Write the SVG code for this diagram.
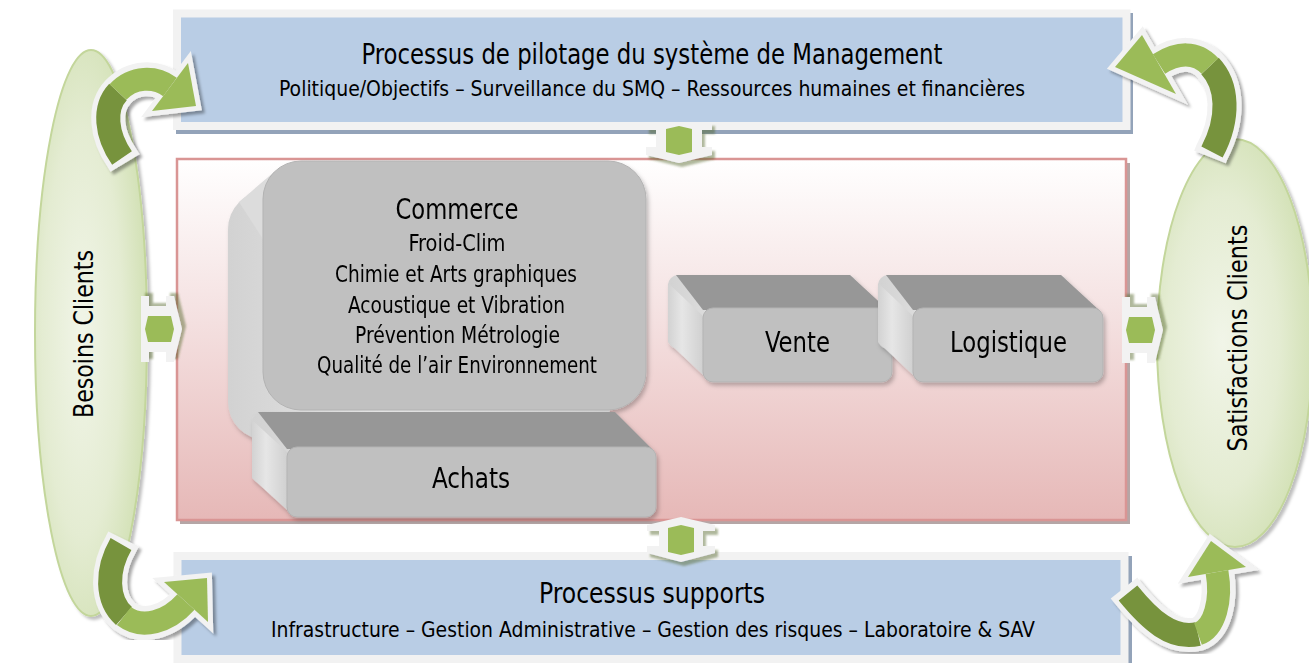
<svg xmlns="http://www.w3.org/2000/svg" width="1309" height="663" viewBox="0 0 1309 663">
<defs>
<style>
.t{font-family:"Liberation Sans Narrow","DejaVu Sans Condensed","Liberation Sans",sans-serif;fill:#000;text-anchor:middle}
.ao{fill:none;stroke:#f2f2f2;stroke-width:34}
.ad{fill:none;stroke:#77933c;stroke-width:24}
.al{fill:none;stroke:#9bbb59;stroke-width:23}
.aho{fill:#f2f2f2;stroke:#f2f2f2;stroke-width:10;stroke-linejoin:miter}
.ah{fill:#9bbb59}
.cw{fill:#f2f2f2}
.cg{fill:#9bbb59}
.front{fill:#c0c0c0;stroke:#b3b3b3;stroke-width:1}
.topf{fill:#979797}
.blue{fill:#b9cde5;stroke:#f2f2f2;stroke-width:8}
.bsh{fill:#93a3b9}
</style>
<linearGradient id="pink" x1="0" y1="0" x2="0" y2="1">
<stop offset="0" stop-color="#ffffff"/>
<stop offset="0.45" stop-color="#f4e0e0"/>
<stop offset="1" stop-color="#e6b8b7"/>
</linearGradient>
<radialGradient id="ell" cx="0.42" cy="0.5" r="0.6">
<stop offset="0" stop-color="#f1f5e8"/>
<stop offset="0.6" stop-color="#e4ecd2"/>
<stop offset="1" stop-color="#d1e0b3"/>
</radialGradient>
<linearGradient id="side" x1="0" y1="0" x2="1" y2="0">
<stop offset="0" stop-color="#d2d2d2"/>
<stop offset="0.4" stop-color="#e6e6e6"/>
<stop offset="1" stop-color="#d0d0d0"/>
</linearGradient>
<filter id="ash" x="-20%" y="-20%" width="140%" height="140%">
<feDropShadow dx="3" dy="3" stdDeviation="1.5" flood-color="#000" flood-opacity="0.35"/>
</filter>
<filter id="csh" x="-20%" y="-20%" width="140%" height="140%">
<feDropShadow dx="3" dy="4" stdDeviation="0.8" flood-color="#4f6228" flood-opacity="0.45"/>
</filter>
<filter id="esh" x="-10%" y="-10%" width="120%" height="120%">
<feDropShadow dx="3" dy="3" stdDeviation="1.5" flood-color="#000" flood-opacity="0.25"/>
</filter>
<filter id="bsh" x="-10%" y="-10%" width="120%" height="120%">
<feDropShadow dx="2" dy="3" stdDeviation="2" flood-color="#000" flood-opacity="0.25"/>
</filter>
<g id="conn1">
<path class="cw" d="M-33,-20 H33 V-12 H23 V5 H33 V13 L0,21 L-33,13 V5 H-23 V-12 H-33 Z"/>
<path class="cg" d="M-13,-13 L0,-16 L13,-13 V10 L0,13 L-13,10 Z"/>
</g>
<g id="conn2">
<path class="cw" d="M-34,-15 L0,-23 L34,-15 V-9 H22 V6 H34 V13 L0,22 L-34,13 V6 H-22 V-9 H-34 Z"/>
<path class="cg" d="M-13,-12 L0,-15 L13,-12 V12 L0,15 L-13,12 Z"/>
</g>
</defs>
<rect width="1309" height="663" fill="#ffffff"/>

<g id="besoins-clients">
<ellipse cx="91" cy="333" rx="56" ry="283" fill="url(#ell)" stroke="#c3d69b" stroke-width="2" filter="url(#esh)"/>
<text class="t" font-size="27" textLength="168" lengthAdjust="spacingAndGlyphs" transform="translate(93,334) rotate(-90)">Besoins Clients</text>
</g>

<g id="satisfactions-clients">
<ellipse cx="1235" cy="343" rx="78" ry="204" fill="url(#ell)" stroke="#c3d69b" stroke-width="2" filter="url(#esh)"/>
<text class="t" font-size="26" textLength="227" lengthAdjust="spacingAndGlyphs" transform="translate(1247,338) rotate(-90)">Satisfactions Clients</text>
</g>

<g id="pilotage">
<rect class="bsh" x="176" y="13" width="957" height="121"/>
<rect class="blue" x="177" y="13.5" width="949.5" height="112.5"/>
<text class="t" x="652" y="64" font-size="28" textLength="581" lengthAdjust="spacingAndGlyphs">Processus de pilotage du système de Management</text>
<text class="t" x="652" y="96" font-size="22" textLength="746" lengthAdjust="spacingAndGlyphs">Politique/Objectifs – Surveillance du SMQ – Ressources humaines et financières</text>
</g>

<g id="supports">
<rect class="bsh" x="176" y="556" width="956" height="110"/>
<rect class="blue" x="177.5" y="556" width="947" height="103"/>
<text class="t" x="652" y="603" font-size="28" textLength="226" lengthAdjust="spacingAndGlyphs">Processus supports</text>
<text class="t" x="653" y="637" font-size="22" textLength="764" lengthAdjust="spacingAndGlyphs">Infrastructure – Gestion Administrative – Gestion des risques – Laboratoire &amp; SAV</text>
</g>

<g id="realisation">
<rect x="180" y="163" width="950" height="361" fill="#b5a6a6"/>
<rect x="177" y="159" width="949" height="361" fill="url(#pink)" stroke="#d99594" stroke-width="2.5"/>
</g>

<g id="commerce" filter="url(#bsh)">
<rect x="228" y="191" width="383" height="249" rx="38" fill="url(#side)"/>
<polygon points="274,172 239,202 270,250 300,200" fill="#dcdcdc"/>
<rect class="front" x="263" y="161" width="383" height="249" rx="38"/>
<text class="t" x="457" y="219" font-size="28" textLength="123" lengthAdjust="spacingAndGlyphs">Commerce</text>
<text class="t" x="457" y="251" font-size="23" textLength="97" lengthAdjust="spacingAndGlyphs">Froid-Clim</text>
<text class="t" x="456" y="282" font-size="23" textLength="242" lengthAdjust="spacingAndGlyphs">Chimie et Arts graphiques</text>
<text class="t" x="456.5" y="313" font-size="23" textLength="217" lengthAdjust="spacingAndGlyphs">Acoustique et Vibration</text>
<text class="t" x="457.5" y="343" font-size="23" textLength="205" lengthAdjust="spacingAndGlyphs">Prévention Métrologie</text>
<text class="t" x="457" y="373" font-size="23" textLength="280" lengthAdjust="spacingAndGlyphs">Qualité de l’air Environnement</text>
</g>

<g id="achats" filter="url(#bsh)">
<rect x="252" y="412" width="369" height="72" rx="10" fill="url(#side)"/>
<polygon class="topf" points="258,412 615,412 652,449 287,449"/>
<polygon points="252,420 287,452 287,510 252,478" fill="url(#side)"/>
<rect class="front" x="287" y="447" width="369" height="70" rx="10"/>
<text class="t" x="471" y="488" font-size="28" textLength="78" lengthAdjust="spacingAndGlyphs">Achats</text>
</g>

<g id="vente" filter="url(#bsh)">
<rect x="668" y="275" width="189" height="74" rx="10" fill="url(#side)"/>
<polygon class="topf" points="676,275 850,275 888,310 703,310"/>
<polygon points="668,283 703,316 703,375 668,342" fill="url(#side)"/>
<rect class="front" x="703" y="308" width="189" height="74" rx="10"/>
<text class="t" x="797.5" y="352" font-size="29" textLength="65" lengthAdjust="spacingAndGlyphs">Vente</text>
</g>

<g id="logistique" filter="url(#bsh)">
<rect x="878" y="275" width="190" height="74" rx="10" fill="url(#side)"/>
<polygon class="topf" points="886,275 1061,275 1099,310 913,310"/>
<polygon points="878,283 913,316 913,375 878,342" fill="url(#side)"/>
<rect class="front" x="913" y="308" width="190" height="74" rx="10"/>
<text class="t" x="1008.5" y="352" font-size="29" textLength="117" lengthAdjust="spacingAndGlyphs">Logistique</text>
</g>

<g id="connectors">
<use href="#conn1" transform="translate(679,142)" filter="url(#csh)"/>
<use href="#conn2" transform="translate(681,540)" filter="url(#csh)"/>
<use href="#conn1" transform="translate(161,329) rotate(-90)" filter="url(#csh)"/>
<use href="#conn1" transform="translate(1142,330) rotate(-90)" filter="url(#csh)"/>

<g id="arrow-tl" filter="url(#ash)">
<path class="ao" d="M125,163 L122,158 C106,135 103,108 118,92 C133,76 155,76 170,87"/>
<polygon class="aho" points="188,63 196,106 152,111"/>
<path class="ad" d="M122,158 C106,135 103,108 118,92"/>
<path class="al" d="M118,92 C133,76 155,76 170,87"/>
<polygon class="ah" points="188,63 196,106 152,111"/>
</g>
<g id="arrow-tr" filter="url(#ash)">
<path class="ao" d="M1210,157 L1212,152 C1230,118 1228,85 1210,66 C1196,51 1178,52 1159,64"/>
<polygon class="aho" points="1142,35 1115,67 1176,94"/>
<path class="ad" d="M1212,152 C1230,118 1228,85 1210,66"/>
<path class="al" d="M1210,66 C1196,51 1178,52 1159,64"/>
<polygon class="ah" points="1142,35 1115,67 1176,94"/>
</g>
<g id="arrow-bl" filter="url(#ash)">
<path class="ao" d="M123.5,539 L121,544 C106,570 106,600 124,616 C142,630 168,622 186,602"/>
<polygon class="aho" points="164,582 207,578 208,622"/>
<path class="ad" d="M121,544 C106,570 106,600 124,616"/>
<path class="al" d="M124,616 C142,630 168,622 186,602"/>
<polygon class="ah" points="164,582 207,578 208,622"/>
</g>
<g id="arrow-br" filter="url(#ash)">
<path class="ao" d="M1124,588 L1128,593 C1150,620 1172,640 1198,634 C1215,628 1222,600 1217,572"/>
<polygon class="aho" points="1246,567 1211,541 1188,577"/>
<path class="ad" d="M1128,593 C1150,620 1172,640 1198,634"/>
<path class="al" d="M1198,634 C1215,628 1222,600 1217,572"/>
<polygon class="ah" points="1246,567 1211,541 1188,577"/>
</g>
</g>
</svg>
